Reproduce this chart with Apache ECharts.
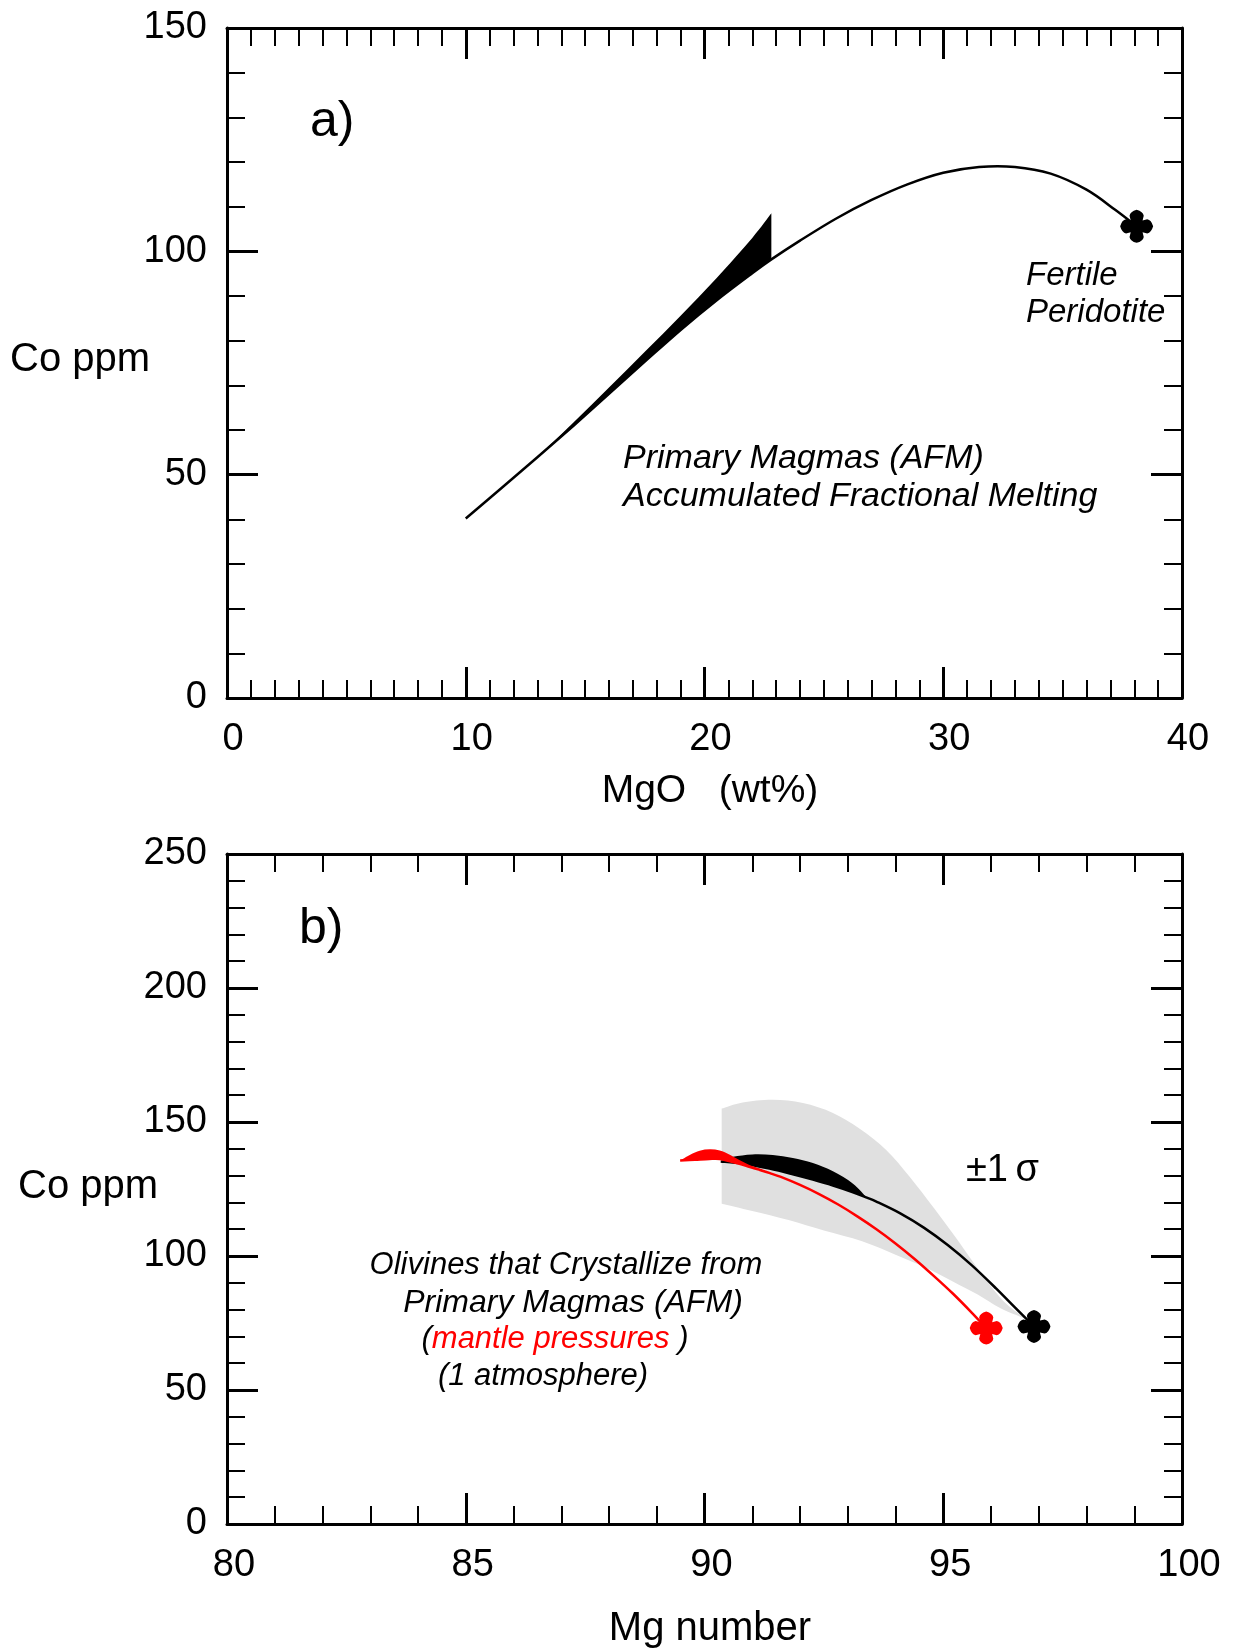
<!DOCTYPE html>
<html>
<head>
<meta charset="utf-8">
<script src="https://cdn.jsdelivr.net/npm/echarts@6/dist/echarts.min.js"></script>
<style>
  html, body { margin: 0; padding: 0; background: #fff; }
  #chart { width: 1233px; height: 1650px; }
</style>
</head>
<body>
<div id="chart"></div>
<script>
// ---- panel a) data: MgO (wt%) vs Co ppm ----
var aTicksX = [0, 10, 20, 30, 40];
var aTicksY = [0, 50, 100, 150];
// AFM primary magma curve
var aCurve = [[10.0, 40.2], [11.5, 47.0], [13.0, 53.9], [14.5, 60.9], [16.0, 68.1], [17.5, 75.3],
    [19.0, 82.4], [20.5, 89.0], [22.0, 95.1], [22.8, 98.2], [24.0, 102.4], [25.5, 107.3],
    [27.0, 111.5], [28.5, 115.0], [30.0, 117.6], [31.5, 118.9], [33.0, 118.9], [34.5, 117.4],
    [36.0, 113.8], [37.2, 109.3], [38.1, 105.6]];
// black wedge between its upper side and the curve
var aWedgeTop = [[13.0, 53.9], [14.5, 61.6], [16.0, 69.5], [17.5, 77.5], [19.0, 85.6],
    [20.5, 94.0], [22.0, 103.0], [22.8, 108.5]];
var aWedgeBottom = [[13.0, 53.9], [14.5, 60.9], [16.0, 68.1], [17.5, 75.3], [19.0, 82.4],
    [20.5, 89.0], [22.0, 95.1], [22.8, 98.2]];
var aPeridotite = [[38.1, 105.6]];

// ---- panel b) data: Mg number vs Co ppm (olivine) ----
var bTicksX = [80, 85, 90, 95, 100];
var bTicksY = [0, 50, 100, 150, 200, 250];
// +-1 sigma grey band
var bBandTop = [[90.36, 155.0], [90.8, 157.3], [91.43, 158.3], [92.06, 157.1], [92.69, 153.4],
    [93.25, 147.5], [93.81, 139.5], [94.3, 129.5], [94.8, 118.0], [95.3, 106.0], [95.8, 93.5],
    [96.3, 82.5], [96.8, 76.0]];
var bBandBottom = [[90.36, 119.5], [91.0, 116.8], [91.76, 113.4], [92.5, 109.5], [93.3, 105.5],
    [94.0, 100.5], [94.63, 95.7], [95.2, 90.5], [95.73, 85.5], [96.2, 80.5], [96.8, 76.0]];
// 1 atmosphere (black)
var bBlackLine = [[90.34, 135.3], [90.8, 134.5], [91.36, 132.6], [91.85, 130.5], [92.27, 128.5],
    [92.69, 126.3], [93.11, 123.8], [93.4, 121.8], [93.6, 120.3], [94.1, 115.9], [94.6, 110.5],
    [95.1, 104.0], [95.6, 96.5], [96.1, 88.0], [96.5, 80.8], [96.9, 73.7]];
var bBlackTop = [[90.34, 135.3], [90.6, 137.0], [91.0, 137.9], [91.43, 137.7], [91.85, 136.6],
    [92.27, 134.7], [92.69, 131.6], [93.11, 127.0], [93.4, 121.8]];
var bBlackBottom = [[90.34, 135.3], [90.8, 134.5], [91.36, 132.6], [91.85, 130.5], [92.27, 128.5],
    [92.69, 126.3], [93.11, 123.8], [93.4, 121.8]];
// mantle pressures (red)
var bRedLine = [[89.49, 135.6], [89.8, 135.9], [90.1, 136.2], [90.32, 136.2], [90.59, 135.1],
    [90.87, 133.7], [91.16, 132.1], [91.37, 130.9], [91.6, 129.5], [92.0, 126.5], [92.4, 123.1],
    [92.8, 119.2], [93.2, 114.8], [93.6, 110.0], [94.0, 104.7], [94.4, 98.9], [94.8, 92.6],
    [95.2, 86.0], [95.6, 78.8], [95.9, 73.1]];
var bRedTop = [[89.49, 135.6], [89.7, 137.8], [89.9, 139.3], [90.11, 139.8], [90.32, 139.4],
    [90.53, 137.8], [90.74, 135.7], [90.95, 133.9], [91.16, 132.6], [91.37, 130.9]];
var bRedBottom = [[89.49, 135.6], [89.8, 135.9], [90.1, 136.2], [90.32, 136.2], [90.59, 135.1],
    [90.87, 133.7], [91.16, 132.1], [91.37, 130.9]];
var bBlackStar = [[96.9, 73.7]];
var bRedStar = [[95.9, 73.1]];

var FONT = '"Liberation Sans", Arial, sans-serif';
// plus-shaped marker with rounded arms
var STAR = 'path://M-3.6,-3.6 L-4.3,-6.4 Q-3.9,-8.9 0,-10 Q3.9,-8.9 4.3,-6.4 L3.6,-3.6 ' +
    'L6.4,-4.3 Q8.9,-3.9 10,0 Q8.9,3.9 6.4,4.3 L3.6,3.6 ' +
    'L4.3,6.4 Q3.9,8.9 0,10 Q-3.9,8.9 -4.3,6.4 L-3.6,3.6 ' +
    'L-6.4,4.3 Q-8.9,3.9 -10,0 Q-8.9,-3.9 -6.4,-4.3 Z';

// catmull-rom through pixel points -> bezier commands
function smoothPath(pts) {
    var d = '';
    for (var i = 0; i < pts.length - 1; i++) {
        var p0 = pts[i - 1] || pts[i], p1 = pts[i], p2 = pts[i + 1], p3 = pts[i + 2] || pts[i + 1];
        d += ' C' + (p1[0] + (p2[0] - p0[0]) / 6) + ',' + (p1[1] + (p2[1] - p0[1]) / 6) +
            ' ' + (p2[0] - (p3[0] - p1[0]) / 6) + ',' + (p2[1] - (p3[1] - p1[1]) / 6) +
            ' ' + p2[0] + ',' + p2[1];
    }
    return d;
}

// filled shape between two edges (both listed left to right)
function areaSeries(top, bottom, xi, color, z) {
    return {
        type: 'custom', xAxisIndex: xi, yAxisIndex: xi, z: z, silent: true, data: top,
        renderItem: function (params, api) {
            if (params.dataIndex !== 0) return;
            var a = top.map(function (p) { return api.coord(p); });
            var b = bottom.map(function (p) { return api.coord(p); }).reverse();
            var d = 'M' + a[0][0] + ',' + a[0][1] + smoothPath(a) +
                ' L' + b[0][0] + ',' + b[0][1] + smoothPath(b) + ' Z';
            return { type: 'path', shape: { pathData: d }, style: { fill: color, stroke: null } };
        }
    };
}

function curveSeries(pts, xi, color, width, z) {
    return {
        type: 'custom', xAxisIndex: xi, yAxisIndex: xi, z: z, silent: true, data: pts,
        renderItem: function (params, api) {
            if (params.dataIndex !== 0) return;
            var a = pts.map(function (p) { return api.coord(p); });
            return {
                type: 'path', shape: { pathData: 'M' + a[0][0] + ',' + a[0][1] + smoothPath(a) },
                style: { fill: null, stroke: color, lineWidth: width, lineJoin: 'round' }
            };
        }
    };
}

function starSeries(pts, xi, color) {
    return {
        type: 'scatter', xAxisIndex: xi, yAxisIndex: xi, z: 10, silent: true, data: pts,
        symbol: STAR, symbolSize: 33, itemStyle: { color: color, opacity: 1 }
    };
}

function axis(grid, pos, ticks, minors, showLabel, margin, pad) {
    return {
        type: 'value', gridIndex: grid, position: pos,
        min: ticks[0], max: ticks[ticks.length - 1], interval: ticks[1] - ticks[0],
        axisLine: { onZero: false, lineStyle: { color: '#000', width: 3 } },
        axisTick: { inside: true, length: 31, lineStyle: { color: '#000', width: 3 } },
        minorTick: { show: true, splitNumber: minors, length: 18, lineStyle: { color: '#000', width: 2 } },
        splitLine: { show: false },
        axisLabel: { show: showLabel, color: '#000', fontSize: 38, fontFamily: FONT, margin: margin, padding: pad }
    };
}

function txt(x, y, text, size, opts) {
    opts = opts || {};
    return {
        type: 'text', x: x, y: y, silent: true,
        style: {
            text: text, fill: '#000', align: opts.align || 'left', verticalAlign: 'middle',
            font: (opts.italic ? 'italic ' : '') + size + 'px ' + FONT, rich: opts.rich
        }
    };
}

var chart = echarts.init(document.getElementById('chart'));
chart.setOption({
    animation: false,
    backgroundColor: '#fff',
    grid: [
        { left: 227, top: 28, width: 955, height: 670 },
        { left: 227, top: 854, width: 955, height: 670 }
    ],
    xAxis: [
        axis(0, 'bottom', aTicksX, 10, true, 23, [0, 0, 0, 12]),
        axis(0, 'top', aTicksX, 10, false, 23, 0),
        axis(1, 'bottom', bTicksX, 5, true, 23, [0, 0, 0, 14]),
        axis(1, 'top', bTicksX, 5, false, 23, 0)
    ],
    yAxis: [
        axis(0, 'left', aTicksY, 5, true, 20, [0, 0, 13, 0]),
        axis(0, 'right', aTicksY, 5, false, 20, 0),
        axis(1, 'left', bTicksY, 5, true, 20, [0, 0, 13, 0]),
        axis(1, 'right', bTicksY, 5, false, 20, 0)
    ],
    series: [
        areaSeries(aWedgeTop, aWedgeBottom, 0, '#000', 2),
        curveSeries(aCurve, 0, '#000', 2.5, 3),
        starSeries(aPeridotite, 0, '#000'),

        areaSeries(bBandTop, bBandBottom, 2, '#e0e0e0', 1),
        areaSeries(bBlackTop, bBlackBottom, 2, '#000', 2),
        curveSeries(bBlackLine, 2, '#000', 2.5, 3),
        areaSeries(bRedTop, bRedBottom, 2, '#ff0000', 4),
        curveSeries(bRedLine, 2, '#ff0000', 2.5, 5),
        starSeries(bBlackStar, 2, '#000'),
        starSeries(bRedStar, 2, '#ff0000')
    ],
    graphic: [
        txt(10, 360, 'Co ppm', 40),
        txt(710, 791, 'MgO   (wt%)', 39, { align: 'center' }),
        txt(310, 122, 'a)', 50),
        txt(1026, 276, 'Fertile', 33, { italic: true }),
        txt(1026, 313, 'Peridotite', 33, { italic: true }),
        txt(623, 459, 'Primary Magmas (AFM)', 34, { italic: true }),
        txt(623, 497, 'Accumulated Fractional Melting', 34, { italic: true }),

        txt(18, 1187, 'Co ppm', 40),
        txt(710, 1629, 'Mg number', 40, { align: 'center' }),
        txt(299, 929, 'b)', 50),
        txt(966, 1171, '\u00b11\u2009\u03c3', 38),
        txt(566, 1265, 'Olivines that Crystallize from', 31, { italic: true, align: 'center' }),
        txt(573, 1303, 'Primary Magmas (AFM)', 32, { italic: true, align: 'center' }),
        txt(555, 1339, '({r|mantle pressures} )', 31, {
            italic: true, align: 'center',
            rich: { r: { fill: '#ff0000', font: 'italic 31px ' + FONT } }
        }),
        txt(543, 1376, '(1 atmosphere)', 31, { italic: true, align: 'center' })
    ]
});
</script>
</body>
</html>
